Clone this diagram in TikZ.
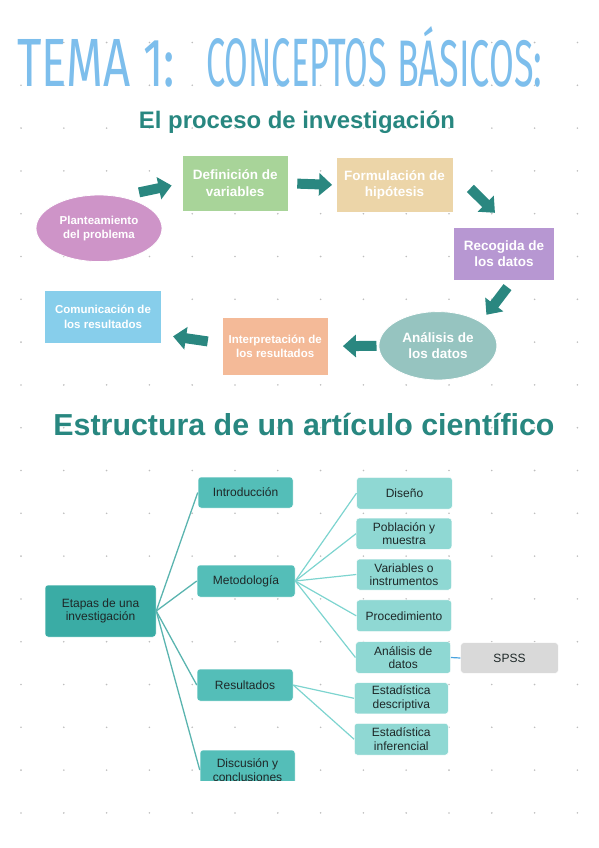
\documentclass[tikz,border=0pt]{standalone}
\usepackage[rgb]{xcolor}
\usepackage{tikz}
\usepackage{graphicx}
\usepackage{fontspec}
\setmainfont{Liberation Sans}
\newfontfamily\handfont{Fira Sans}
\usetikzlibrary{shapes.geometric,arrows.meta}

\definecolor{titleblue}{RGB}{125,190,236}
\definecolor{headteal}{RGB}{40,135,128}
\definecolor{arrowteal}{RGB}{42,135,128}
\definecolor{dotgray}{RGB}{190,190,190}
\definecolor{plantcol}{RGB}{206,148,200}
\definecolor{defcol}{RGB}{168,212,153}
\definecolor{formcol}{RGB}{236,213,168}
\definecolor{recogcol}{RGB}{183,151,210}
\definecolor{analcol}{RGB}{150,196,192}
\definecolor{interpcol}{RGB}{244,186,152}
\definecolor{comuncol}{RGB}{135,206,235}
\definecolor{etapcol}{RGB}{58,172,165}
\definecolor{lvonecol}{RGB}{84,190,184}
\definecolor{lvtwocol}{RGB}{143,216,211}
\definecolor{spsscol}{RGB}{217,217,217}
\definecolor{lineone}{RGB}{90,180,175}
\definecolor{linetwo}{RGB}{125,212,207}
\definecolor{lineblue}{RGB}{74,163,223}
\definecolor{darktext}{RGB}{30,40,40}

\begin{document}
\begin{tikzpicture}[x=1pt, y=-1pt,
  proc/.style={draw=white, line width=0.8pt, text=white, align=center, inner sep=0pt,
    font=\fontsize{13.5}{16.5}\selectfont\bfseries},
  procsmall/.style={proc, font=\fontsize{11.5}{14.5}\selectfont\bfseries},
  flecha/.style={draw=arrowteal, line width=10pt, -{Triangle[length=13pt,width=22pt]}},
  caja/.style={rounded corners=3pt, draw=white, line width=0.5pt, text=darktext,
    align=center, inner sep=0pt, font=\fontsize{12}{13.5}\selectfont},
  rama/.style={draw=lineone, line width=1.3pt},
  subrama/.style={draw=linetwo, line width=1.2pt}]

\useasboundingbox (0,0) rectangle (599,848);

% dotted paper
\foreach \i in {0,...,13}
  \foreach \j in {0,...,18}
  {
    \fill[dotgray] (21+42.8*\i, 42.5+42.8*\j) circle [radius=0.9pt];
  }

% titles
\path
(17,87) node [anchor=base west, inner sep=0pt, text=titleblue, font=\handfont] (tema)
  {\resizebox{158pt}{47pt}{TEMA 1:}\hspace{31pt}%
   \resizebox{181pt}{48pt}{CONCEPTOS}\hspace{10pt}%
   \resizebox{145pt}{60pt}{BÁSICOS:}}
(297,128.3) node [anchor=base, inner sep=0pt, text=headteal] (proceso)
  {\resizebox{316pt}{!}{\bfseries El proceso de investigación}}
(304,435) node [anchor=base, inner sep=0pt, text=headteal] (estructura)
  {\resizebox{501pt}{!}{\bfseries Estructura de un artículo científico}};

%% research process
\path
(99,228.3) node [procsmall, ellipse, fill=plantcol, minimum width=126, minimum height=66.6] (plantea)
  {Planteamiento\\del problema}
(235.2,183.3) node [proc, fill=defcol, minimum width=105.4, minimum height=55.7] (defvar)
  {Definición de\\variables}
(394.5,185) node [proc, fill=formcol, minimum width=117, minimum height=55.4] (formhip)
  {Formulación de\\hipótesis}
(503.9,253.7) node [proc, fill=recogcol, minimum width=101.4, minimum height=52.7] (recog)
  {Recogida de\\los datos}
(437.9,345.8) node [proc, ellipse, fill=analcol, minimum width=118, minimum height=68.4] (analisis)
  {Análisis de\\los datos}
(275.2,346.3) node [procsmall, fill=interpcol, minimum width=105.4, minimum height=57.3] (interp)
  {Interpretación de\\los resultados}
(103,316.7) node [procsmall, fill=comuncol, minimum width=117.5, minimum height=53.3] (comunic)
  {Comunicación de\\los resultados};

% block arrows
\draw[flecha, shorten <=19.8pt, shorten >=10.7pt] (plantea.57) -- (defvar.west);
\draw[flecha, shorten <=9pt, shorten >=3.5pt] (defvar.east) -- (formhip.west);
\draw[flecha, shorten <=24pt, shorten >=20pt] (formhip.13) -- (recog.79);
\draw[flecha, shorten <=8.4pt, shorten >=9pt] (recog.288) -- (analisis.29);
\draw[flecha, shorten <=2pt, shorten >=14.6pt] (analisis.west) -- (interp.east);
\draw[flecha, shorten <=14.5pt, shorten >=11pt] (interp.177) -- (comunic.343);

%% article structure
\path
(100.5,611) node [caja, fill=etapcol, minimum width=111, minimum height=52] (etapas)
  {Etapas de una\\investigación}
(245.5,492.5) node [caja, fill=lvonecol, minimum width=95, minimum height=31] (intro)
  {Introducción}
(246,581) node [caja, fill=lvonecol, minimum width=98, minimum height=32] (metodo)
  {Metodología}
(245,685) node [caja, fill=lvonecol, minimum width=96, minimum height=32] (result)
  {Resultados};

% last box is cut by the page
\begin{scope}
\clip (0,0) rectangle (599,780);
\path (247.5,770) node [caja, fill=lvonecol, minimum width=95, minimum height=40] (discus)
  {Discusión y\\conclusiones};
\end{scope}

\path
(404.5,493.2) node [caja, fill=lvtwocol, minimum width=95.6, minimum height=31.7] (diseno)
  {Diseño}
(404,533.7) node [caja, fill=lvtwocol, minimum width=95.6, minimum height=31.3] (poblac)
  {Población y\\muestra}
(404,574.5) node [caja, fill=lvtwocol, minimum width=95, minimum height=31] (variab)
  {Variables o\\instrumentos}
(404,615.8) node [caja, fill=lvtwocol, minimum width=95, minimum height=31.7] (proced)
  {Procedimiento}
(403.2,657.5) node [caja, fill=lvtwocol, minimum width=95, minimum height=31.6] (analdat)
  {Análisis de\\datos}
(509.5,658) node [caja, fill=spsscol, minimum width=97.6, minimum height=30.6] (spss)
  {SPSS}
(401.3,698.3) node [caja, fill=lvtwocol, minimum width=94, minimum height=31.3] (estdesc)
  {Estadística\\descriptiva}
(401.3,739.2) node [caja, fill=lvtwocol, minimum width=94, minimum height=31.7] (estinf)
  {Estadística\\inferencial};

% branches
\foreach \hijo in {intro, metodo, result, discus}
  \draw[rama] (etapas.east) -- (\hijo.west);
\foreach \hijo in {diseno, poblac, variab, proced, analdat}
  \draw[subrama] (metodo.east) -- (\hijo.west);
\foreach \hijo in {estdesc, estinf}
  \draw[subrama] (result.east) -- (\hijo.west);
\draw[draw=lineblue, line width=1.2pt] (analdat.east) -- (spss.west);

\end{tikzpicture}
\end{document}
